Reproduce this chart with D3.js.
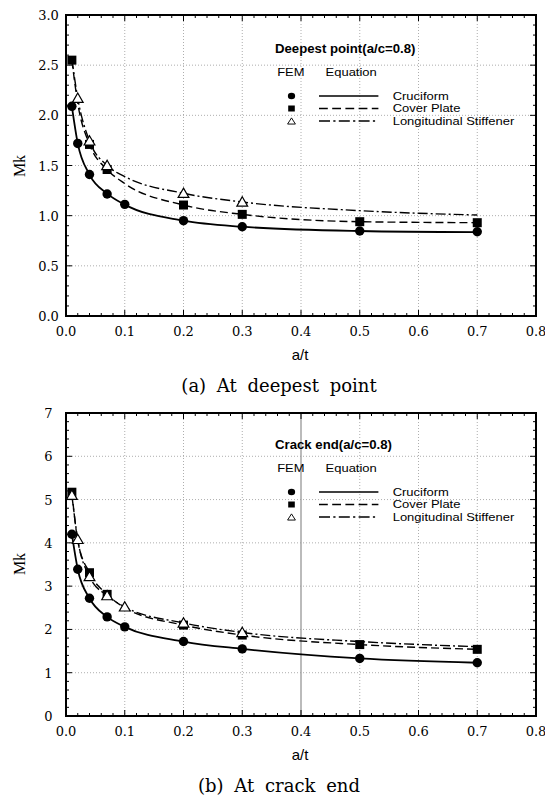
<!DOCTYPE html>
<head>
<meta charset="utf-8">
<style>
    body { margin: 0; background: #fff; }
    svg { display: block; }
</style>
<script src="https://d3js.org/d3.v7.min.js"></script>
</head>
<body>
<script>
// a/t values used by the equation curves
var eqX = [0.01, 0.02, 0.04, 0.07, 0.1, 0.2, 0.3, 0.5, 0.7];

// (a) deepest point
var deepCrucEq  = [2.09, 1.72, 1.41, 1.22, 1.11, 0.95, 0.89, 0.847, 0.835];
var deepCoverEq = [2.55, 2.12, 1.71, 1.46, 1.32, 1.106, 1.013, 0.94, 0.93];
var deepStiffEq = [2.56, 2.17, 1.745, 1.50, 1.39, 1.223, 1.136, 1.05, 1.006];
var deepCrucFemX  = [0.01, 0.02, 0.04, 0.07, 0.1, 0.2, 0.3, 0.5, 0.7];
var deepCrucFem   = [2.09, 1.72, 1.41, 1.216, 1.113, 0.95, 0.89, 0.847, 0.84];
var deepCoverFemX = [0.01, 0.04, 0.07, 0.2, 0.3, 0.5, 0.7];
var deepCoverFem  = [2.55, 1.71, 1.46, 1.106, 1.013, 0.94, 0.93];
var deepStiffFemX = [0.02, 0.04, 0.07, 0.2, 0.3];
var deepStiffFem  = [2.17, 1.745, 1.50, 1.223, 1.136];

// (b) crack end
var crackCrucEq  = [4.2, 3.39, 2.72, 2.29, 2.06, 1.72, 1.55, 1.33, 1.23];
var crackCoverEq = [5.17, 4.05, 3.31, 2.81, 2.5, 2.1, 1.87, 1.65, 1.54];
var crackStiffEq = [5.1, 4.08, 3.22, 2.78, 2.52, 2.15, 1.93, 1.72, 1.6];
var crackCrucFemX  = [0.01, 0.02, 0.04, 0.07, 0.1, 0.2, 0.3, 0.5, 0.7];
var crackCrucFem   = [4.2, 3.39, 2.72, 2.29, 2.06, 1.72, 1.55, 1.33, 1.23];
var crackCoverFemX = [0.01, 0.04, 0.07, 0.2, 0.3, 0.5, 0.7];
var crackCoverFem  = [5.17, 3.31, 2.81, 2.1, 1.87, 1.65, 1.54];
var crackStiffFemX = [0.01, 0.02, 0.04, 0.07, 0.1, 0.2, 0.3];
var crackStiffFem  = [5.1, 4.08, 3.22, 2.78, 2.52, 2.15, 1.93];

var xTicks = [0, 0.1, 0.2, 0.3, 0.4, 0.5, 0.6, 0.7, 0.8];
var deepYTicks = [0, 0.5, 1.0, 1.5, 2.0, 2.5, 3.0];
var crackYTicks = [0, 1, 2, 3, 4, 5, 6, 7];
var seriesNames = ["Cruciform", "Cover Plate", "Longitudinal Stiffener"];

var svg = d3.select("body").append("svg")
    .attr("width", 545)
    .attr("height", 803);

var dashes = [null, "8,4", "10,3,2,3"];

function zip(xs, ys) {
    return xs.map(function(x, i) { return [x, ys[i]]; });
}

function drawPanel(p) {
    var x = d3.scaleLinear().domain([0, 0.8]).range([66, 536]);
    var y = d3.scaleLinear().domain([0, p.ymax]).range([p.bottom, p.top]);
    var g = svg.append("g");

    // dotted grid
    g.selectAll(".vg").data(xTicks.slice(1, -1)).enter().append("line")
        .attr("x1", function(d) { return x(d); })
        .attr("x2", function(d) { return x(d); })
        .attr("y1", p.top).attr("y2", p.bottom)
        .attr("stroke", function(d) { return (p.solid04 && d == 0.4) ? "#aaa" : "#999"; })
        .attr("stroke-width", function(d) { return (p.solid04 && d == 0.4) ? 1.6 : 0.8; })
        .attr("stroke-dasharray", function(d) { return (p.solid04 && d == 0.4) ? null : "1,2"; });
    g.selectAll(".hg").data(p.yTicks.slice(1, -1)).enter().append("line")
        .attr("x1", x(0)).attr("x2", x(0.8))
        .attr("y1", function(d) { return y(d); })
        .attr("y2", function(d) { return y(d); })
        .attr("stroke", "#999")
        .attr("stroke-width", 0.8)
        .attr("stroke-dasharray", "1,2");

    // inward ticks on all four sides
    var xMinor = d3.range(0, 0.8001, 0.02);
    var yMinor = d3.range(0, p.ymax + 0.0001, p.yMinor);
    g.selectAll(".xt").data(xMinor).enter().append("path")
        .attr("d", function(d, i) {
            var L = (i % 5 == 0) ? 6 : 3;
            return "M" + x(d) + "," + p.bottom + "v" + (-L) + "M" + x(d) + "," + p.top + "v" + L;
        })
        .attr("stroke", "#000").attr("stroke-width", 1);
    g.selectAll(".yt").data(yMinor).enter().append("path")
        .attr("d", function(d, i) {
            var L = (i % 5 == 0) ? 6 : 3;
            return "M" + x(0) + "," + y(d) + "h" + L + "M" + x(0.8) + "," + y(d) + "h" + (-L);
        })
        .attr("stroke", "#000").attr("stroke-width", 1);

    g.append("rect")
        .attr("x", x(0)).attr("y", p.top)
        .attr("width", x(0.8) - x(0)).attr("height", p.bottom - p.top)
        .attr("fill", "none").attr("stroke", "#000").attr("stroke-width", 2);

    // tick labels
    g.selectAll(".xl").data(xTicks).enter().append("text")
        .attr("x", function(d) { return x(d); })
        .attr("y", p.bottom + 20)
        .attr("text-anchor", "middle")
        .style("font-family", "DejaVu Serif").style("font-size", "13px")
        .text(function(d) { return d3.format(".1f")(d); });
    g.selectAll(".yl").data(p.yTicks).enter().append("text")
        .attr("x", 48.5)
        .attr("y", function(d) { return y(d) + 5; })
        .attr("text-anchor", "middle")
        .style("font-family", "DejaVu Serif").style("font-size", "13px")
        .text(function(d) { return d3.format(p.yFmt)(d); });

    g.append("text")
        .attr("transform", "translate(25," + p.mkY + ") rotate(-90)")
        .attr("text-anchor", "middle")
        .style("font-family", "Liberation Serif").style("font-size", "16px")
        .text("Mk");
    g.append("text")
        .attr("x", 300).attr("y", p.bottom + 44)
        .attr("text-anchor", "middle")
        .style("font-family", "Liberation Sans").style("font-size", "15px")
        .text("a/t");
    g.append("text")
        .attr("x", 279).attr("y", p.bottom + 76)
        .attr("text-anchor", "middle")
        .style("font-family", "DejaVu Serif").style("font-size", "18px")
        .style("word-spacing", "5px")
        .text(p.caption);

    // equation curves
    var line = d3.line()
        .x(function(d) { return x(d[0]); })
        .y(function(d) { return y(d[1]); })
        .curve(d3.curveMonotoneX);
    p.eq.forEach(function(vals, i) {
        g.append("path")
            .datum(zip(eqX, vals))
            .attr("d", line)
            .attr("fill", "none")
            .attr("stroke", "#000")
            .attr("stroke-width", i == 0 ? 1.8 : 1.4)
            .attr("stroke-dasharray", dashes[i]);
    });

    // FEM markers: squares, then triangles, then circles
    g.selectAll(".sq").data(zip(p.coverX, p.cover)).enter().append("rect")
        .attr("x", function(d) { return x(d[0]) - 4.5; })
        .attr("y", function(d) { return y(d[1]) - 4.5; })
        .attr("width", 9).attr("height", 9)
        .attr("fill", "#000");
    g.selectAll(".tri").data(zip(p.stiffX, p.stiff)).enter().append("path")
        .attr("d", d3.symbol().type(d3.symbolTriangle).size(50))
        .attr("transform", function(d) { return "translate(" + x(d[0]) + "," + (y(d[1]) + 1) + ")"; })
        .attr("fill", "#fff").attr("stroke", "#000").attr("stroke-width", 1.2);
    g.selectAll(".cir").data(zip(p.crucX, p.cruc)).enter().append("circle")
        .attr("cx", function(d) { return x(d[0]); })
        .attr("cy", function(d) { return y(d[1]); })
        .attr("r", 4.7)
        .attr("fill", "#000");

    // legend
    var lg = g.append("g")
        .attr("transform", "translate(275," + p.legY + ") scale(1.1,1)")
        .style("font-family", "Liberation Sans").style("font-size", "11.8px");
    lg.append("text").attr("x", 0).attr("y", 0)
        .style("font-weight", "bold").style("font-size", "12px")
        .text(p.legTitle);
    lg.append("text").attr("x", 2).attr("y", 23).text("FEM");
    lg.append("text").attr("x", 46).attr("y", 23).text("Equation");
    seriesNames.forEach(function(name, i) {
        var ry = 47 + i * 12.5;
        lg.append("line")
            .attr("x1", 40).attr("x2", 94)
            .attr("y1", ry - 4).attr("y2", ry - 4)
            .attr("stroke", "#000").attr("stroke-width", 1.3)
            .attr("stroke-dasharray", dashes[i]);
        lg.append("text").attr("x", 107).attr("y", ry).text(name);
        var mx = 15, my = ry - 4;
        if (i == 0) {
            lg.append("circle").attr("cx", mx).attr("cy", my).attr("r", 3.3).attr("fill", "#000");
        } else if (i == 1) {
            lg.append("rect").attr("x", mx - 3).attr("y", my - 3).attr("width", 6).attr("height", 6).attr("fill", "#000");
        } else {
            lg.append("path")
                .attr("d", d3.symbol().type(d3.symbolTriangle).size(22))
                .attr("transform", "translate(" + mx + "," + (my + 1) + ")")
                .attr("fill", "#fff").attr("stroke", "#000").attr("stroke-width", 0.9);
        }
    });
}

drawPanel({
    top: 15, bottom: 316, ymax: 3.0, yMinor: 0.1, yTicks: deepYTicks, yFmt: ".1f",
    mkY: 166, caption: "(a) At deepest point", legY: 53, legTitle: "Deepest point(a/c=0.8)",
    eq: [deepCrucEq, deepCoverEq, deepStiffEq],
    crucX: deepCrucFemX, cruc: deepCrucFem,
    coverX: deepCoverFemX, cover: deepCoverFem,
    stiffX: deepStiffFemX, stiff: deepStiffFem,
    solid04: false
});

drawPanel({
    top: 413, bottom: 716, ymax: 7, yMinor: 0.2, yTicks: crackYTicks, yFmt: "d",
    mkY: 564, caption: "(b) At crack end", legY: 449, legTitle: "Crack end(a/c=0.8)",
    eq: [crackCrucEq, crackCoverEq, crackStiffEq],
    crucX: crackCrucFemX, cruc: crackCrucFem,
    coverX: crackCoverFemX, cover: crackCoverFem,
    stiffX: crackStiffFemX, stiff: crackStiffFem,
    solid04: true
});
</script>
</body>
